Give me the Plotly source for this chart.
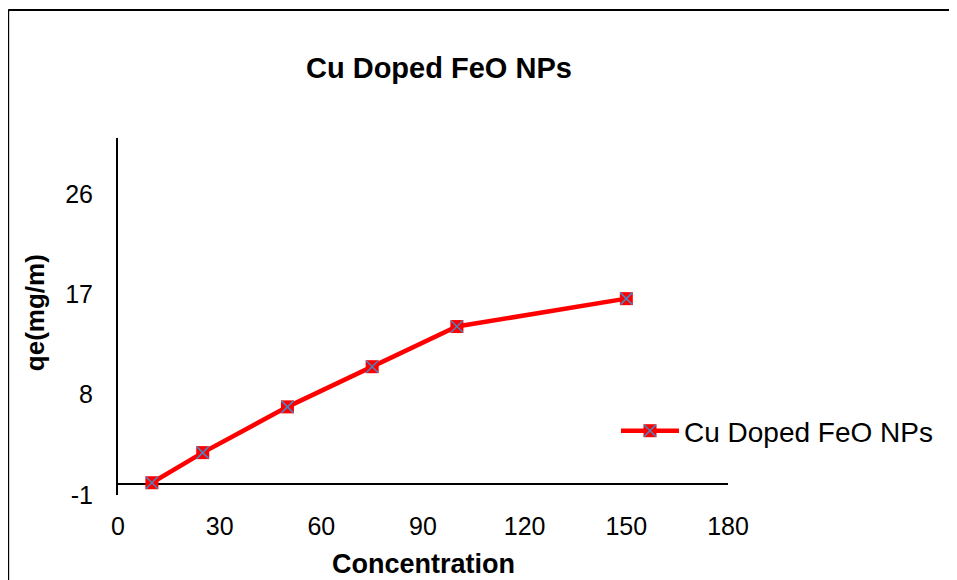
import plotly.graph_objects as go

concentration = [10, 25, 50, 75, 100, 150]
qe = [0.1, 2.8, 6.9, 10.5, 14.1, 16.6]
series_name = "Cu Doped FeO NPs"
x_ticks = [0, 30, 60, 90, 120, 150, 180]
y_ticks = [-1, 8, 17, 26]
y_tick_text = ["-1", "8", "17", "26"]

OFF = 8  # page body margin in the browser
W, H = 957 - 2 * OFF, 580 - OFF
L, R, T, B = 118 - OFF, 729 - OFF, 138 - OFF, 495 - OFF  # plot area in figure pixels


def px(x):
    return (x - OFF - L) / (R - L)


def py(y):
    return (B - (y - OFF)) / (B - T)


FONT = "Arial, Liberation Sans, sans-serif"

fig = go.Figure()
fig.add_trace(go.Scatter(
    x=concentration, y=qe, mode="lines+markers", name=series_name,
    line=dict(color="#FF0000", width=4.5),
    marker=dict(symbol="square", size=13, color="#FF0000", line=dict(width=0)),
    legend="legend",
))
fig.add_trace(go.Scatter(
    x=concentration, y=qe, mode="markers", name=" ",
    marker=dict(symbol="x-thin", size=12, color="#4F81BD",
                line=dict(color="#4F81BD", width=1.6)),
    legend="legend2",
))

legend_common = dict(
    x=px(616), y=py(431), xanchor="left", yanchor="middle",
    bgcolor="rgba(0,0,0,0)", borderwidth=0,
    font=dict(family=FONT, size=28, color="black"),
    itemwidth=58,
)

fig.update_layout(
    width=W, height=H,
    margin=dict(l=L, r=W - R, t=T, b=H - B),
    paper_bgcolor="white", plot_bgcolor="white",
    showlegend=True,
    legend=legend_common,
    legend2=legend_common,
    xaxis=dict(
        range=[0, 180], tickvals=x_ticks, showgrid=False, zeroline=False,
        showline=False, ticks="outside", ticklen=9, tickcolor="rgba(0,0,0,0)",
        tickfont=dict(family=FONT, size=25, color="black"),
    ),
    yaxis=dict(
        range=[-1, 31], tickvals=y_ticks, ticktext=y_tick_text, showgrid=False,
        zeroline=True, zerolinecolor="black", zerolinewidth=2,
        showline=True, linecolor="black", linewidth=2,
        ticks="outside", ticklen=18, tickcolor="rgba(0,0,0,0)",
        tickfont=dict(family=FONT, size=25, color="black"),
    ),
    annotations=[
        dict(text="<b>Cu Doped FeO NPs</b>", x=px(440), y=py(68), xref="paper", yref="paper",
             showarrow=False, xanchor="center", yanchor="middle",
             font=dict(family=FONT, size=29, color="black")),
        dict(text="<b>Concentration</b>", x=px(424), y=py(564), xref="paper", yref="paper",
             showarrow=False, xanchor="center", yanchor="middle",
             font=dict(family=FONT, size=27, color="black")),
        dict(text="<b>qe(mg/m)</b>", x=px(35), y=py(313), xref="paper", yref="paper",
             showarrow=False, xanchor="center", yanchor="middle", textangle=-90,
             font=dict(family=FONT, size=26, color="black")),
    ],
    shapes=[
        dict(type="line", xref="paper", yref="paper",
             x0=px(8), x1=px(990), y0=py(10), y1=py(10),
             line=dict(color="black", width=2), layer="above"),
        dict(type="line", xref="paper", yref="paper",
             x0=px(8), x1=px(8), y0=py(10), y1=py(620),
             line=dict(color="black", width=2), layer="above"),
    ],
)

fig.write_html("out.html")
